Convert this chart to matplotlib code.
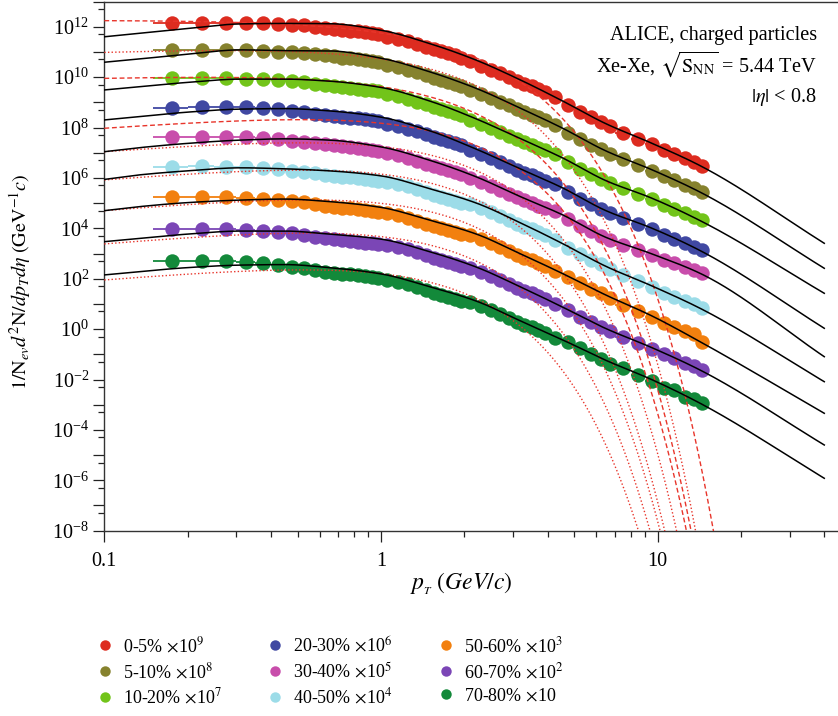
import numpy as np
import matplotlib
matplotlib.use("Agg")
import matplotlib.pyplot as plt
from matplotlib.ticker import FixedLocator, FuncFormatter, NullFormatter
from matplotlib.lines import Line2D

plt.rcParams['font.family'] = ['Liberation Serif', 'DejaVu Serif']
plt.rcParams['mathtext.fontset'] = 'stix'

# ---------------- data (log10 of plotted, scaled yields) ----------------
pt = [0.175, 0.225, 0.275, 0.325, 0.375, 0.425, 0.475, 0.525, 0.575, 0.625,
      0.675, 0.725, 0.775, 0.825, 0.875, 0.925, 0.975,
      1.05, 1.15, 1.25, 1.35, 1.45, 1.55, 1.65, 1.75, 1.85, 1.95,
      2.1, 2.3, 2.5, 2.7, 2.9, 3.1, 3.3, 3.5, 3.7, 3.9,
      4.25, 4.75, 5.25, 5.75, 6.25, 6.75,
      7.5, 8.5, 9.5, 10.5, 11.5, 12.5, 13.5, 14.5]
pt_halfwidth = [0.025] * 17 + [0.05] * 10 + [0.1] * 10 + [0.25] * 6 + [0.5] * 8

logy_0_5 = [12.13, 12.16, 12.16, 12.15, 12.13, 12.10, 12.06, 12.08, 12.00, 11.96,
            11.91, 11.87, 11.84, 11.81, 11.77, 11.74, 11.70,
            11.61, 11.52, 11.42, 11.31, 11.20, 11.10, 11.02, 10.94, 10.86, 10.77,
            10.62, 10.46, 10.30, 10.15, 10.00, 9.86, 9.74, 9.63, 9.53, 9.42,
            9.22, 8.88, 8.63, 8.40, 8.23, 8.04,
            7.79, 7.56, 7.33, 7.11, 6.95, 6.78, 6.64, 6.49]
logy_5_10 = [11.07, 11.07, 11.07, 11.07, 11.05, 11.01, 10.98, 10.94, 10.92, 10.88,
             10.83, 10.77, 10.74, 10.71, 10.67, 10.64, 10.60,
             10.49, 10.40, 10.30, 10.19, 10.08, 9.98, 9.90, 9.82, 9.74, 9.65,
             9.50, 9.34, 9.18, 9.03, 8.88, 8.74, 8.62, 8.51, 8.41, 8.30,
             8.10, 7.80, 7.55, 7.32, 7.15, 6.96,
             6.74, 6.51, 6.28, 6.06, 5.90, 5.73, 5.59, 5.44]
logy_10_20 = [9.95, 9.95, 9.95, 9.92, 9.91, 9.88, 9.85, 9.79, 9.73, 9.67,
              9.64, 9.60, 9.57, 9.54, 9.50, 9.47, 9.43,
              9.33, 9.24, 9.14, 9.03, 8.92, 8.82, 8.74, 8.66, 8.58, 8.49,
              8.29, 8.13, 7.97, 7.82, 7.67, 7.53, 7.41, 7.30, 7.20, 7.09,
              6.96, 6.62, 6.37, 6.14, 5.97, 5.78,
              5.61, 5.38, 5.15, 4.93, 4.77, 4.60, 4.46, 4.31]
logy_20_30 = [8.79, 8.80, 8.83, 8.80, 8.76, 8.72, 8.67, 8.60, 8.54, 8.50,
              8.46, 8.42, 8.39, 8.36, 8.32, 8.29, 8.25,
              8.15, 8.06, 7.96, 7.85, 7.74, 7.64, 7.56, 7.48, 7.40, 7.31,
              7.09, 6.93, 6.77, 6.62, 6.47, 6.33, 6.21, 6.10, 6.00, 5.89,
              5.77, 5.43, 5.18, 4.95, 4.78, 4.59,
              4.42, 4.19, 3.96, 3.74, 3.58, 3.41, 3.27, 3.12]
logy_30_40 = [7.64, 7.64, 7.64, 7.61, 7.57, 7.53, 7.48, 7.42, 7.37, 7.35,
              7.29, 7.25, 7.22, 7.19, 7.15, 7.12, 7.08,
              6.98, 6.89, 6.79, 6.68, 6.57, 6.47, 6.39, 6.31, 6.23, 6.14,
              5.99, 5.83, 5.67, 5.52, 5.37, 5.23, 5.11, 5.00, 4.90, 4.79,
              4.70, 4.36, 4.11, 3.88, 3.71, 3.52,
              3.34, 3.14, 2.94, 2.75, 2.62, 2.47, 2.35, 2.22]
logy_40_50 = [6.44, 6.47, 6.44, 6.42, 6.38, 6.34, 6.29, 6.25, 6.18, 6.12,
              6.09, 6.05, 6.02, 5.99, 5.95, 5.92, 5.88,
              5.85, 5.76, 5.66, 5.55, 5.44, 5.34, 5.26, 5.18, 5.10, 5.01,
              4.95, 4.79, 4.63, 4.48, 4.33, 4.19, 4.07, 3.96, 3.86, 3.75,
              3.55, 3.22, 2.97, 2.74, 2.57, 2.38,
              2.13, 1.90, 1.67, 1.45, 1.29, 1.12, 0.98, 0.83]
logy_50_60 = [5.23, 5.25, 5.23, 5.19, 5.16, 5.12, 5.10, 5.03, 4.96, 4.90,
              4.86, 4.82, 4.79, 4.76, 4.72, 4.69, 4.65,
              4.60, 4.51, 4.41, 4.30, 4.19, 4.09, 4.01, 3.93, 3.85, 3.76,
              3.72, 3.56, 3.40, 3.25, 3.10, 2.96, 2.84, 2.73, 2.63, 2.52,
              2.32, 2.08, 1.83, 1.60, 1.43, 1.24,
              0.94, 0.71, 0.48, 0.26, 0.10, -0.07, -0.21, -0.50]
logy_60_70 = [3.98, 3.98, 3.98, 3.93, 3.90, 3.87, 3.80, 3.73, 3.67, 3.60,
              3.57, 3.53, 3.50, 3.47, 3.43, 3.40, 3.36,
              3.35, 3.26, 3.16, 3.05, 2.94, 2.84, 2.76, 2.68, 2.60, 2.51,
              2.41, 2.25, 2.09, 1.94, 1.79, 1.65, 1.53, 1.42, 1.32, 1.21,
              1.01, 0.75, 0.50, 0.27, 0.10, -0.09,
              -0.32, -0.55, -0.78, -1.00, -1.16, -1.33, -1.47, -1.62]
logy_70_80 = [2.71, 2.71, 2.71, 2.67, 2.63, 2.54, 2.48, 2.41, 2.34, 2.28,
              2.24, 2.20, 2.17, 2.14, 2.10, 2.07, 2.03,
              1.96, 1.87, 1.77, 1.66, 1.55, 1.45, 1.37, 1.29, 1.21, 1.12,
              1.06, 0.90, 0.74, 0.59, 0.44, 0.30, 0.18, 0.07, -0.03, -0.14,
              -0.34, -0.51, -0.76, -0.99, -1.20, -1.38,
              -1.56, -1.82, -2.05, -2.35, -2.42, -2.68, -2.77, -2.94]

labels = [r'0-5% $\times$10$^{9}$', r'5-10% $\times$10$^{8}$', r'10-20% $\times$10$^{7}$',
          r'20-30% $\times$10$^{6}$', r'30-40% $\times$10$^{5}$', r'40-50% $\times$10$^{4}$',
          r'50-60% $\times$10$^{3}$', r'60-70% $\times$10$^{2}$', r'70-80% $\times$10']
colors = ['#dd2c20', '#86822e', '#72c41a', '#4048a2', '#c84dab', '#9cdce8',
          '#f2800f', '#7b46b6', '#13893a']
series = [logy_0_5, logy_5_10, logy_10_20, logy_20_30, logy_30_40, logy_40_50,
          logy_50_60, logy_60_70, logy_70_80]

# fit curve (black): read control points of the drawn fit lines
fit_pt = [0.1, 0.134, 0.2, 0.31, 0.45, 0.65, 1.0, 1.5, 2.2, 3.2, 4.5, 6.5, 9.5, 14.5, 40.0]
fit_logy = [
    [11.60, 11.74, 11.93, 12.11, 12.13, 12.12, 11.86, 11.33, 10.68, 9.88, 9.07, 8.15, 7.38, 6.44, 3.405],
    [10.59, 10.72, 10.91, 11.08, 11.05, 11.04, 10.75, 10.21, 9.56, 8.76, 7.99, 7.07, 6.33, 5.39, 2.413],
    [9.49, 9.62, 9.79, 9.92, 9.92, 9.84, 9.59, 9.05, 8.35, 7.55, 6.81, 5.89, 5.20, 4.26, 1.421],
    [8.30, 8.43, 8.61, 8.73, 8.75, 8.66, 8.41, 7.87, 7.15, 6.35, 5.62, 4.70, 4.01, 3.07, 0.032],
    [7.04, 7.20, 7.37, 7.50, 7.55, 7.50, 7.23, 6.70, 6.05, 5.25, 4.55, 3.64, 2.99, 2.17, -1.095],
    [5.94, 6.12, 6.28, 6.40, 6.36, 6.28, 6.08, 5.57, 5.01, 4.21, 3.41, 2.49, 1.72, 0.78, -2.087],
    [4.70, 4.86, 5.02, 5.12, 5.16, 5.06, 4.83, 4.32, 3.78, 2.98, 2.22, 1.35, 0.53, -0.55, -3.341],
    [3.47, 3.60, 3.77, 3.89, 3.89, 3.77, 3.57, 3.07, 2.47, 1.67, 0.89, 0.02, -0.73, -1.67, -4.599],
    [2.15, 2.28, 2.44, 2.54, 2.56, 2.44, 2.19, 1.68, 1.12, 0.32, -0.41, -1.24, -2.00, -2.99, -5.92],
]

# soft-component curves (red): value at pT=0.1, value at pT=1, pT where it reaches 1e-8
soft_log_at_01 = [12.24, 10.98, 9.95, 7.97, 7.04, 5.92, 4.70, 3.38, 1.95]
soft_log_at_1 = [11.75, 10.72, 9.62, 8.17, 7.24, 6.15, 4.99, 3.67, 2.20]
soft_pt_end = [15.9, 13.7, 13.2, 12.7, 11.7, 10.6, 10.2, 9.38, 8.52]
soft_style = ['dashed', 'dotted', 'dashed', 'dashed', 'dotted', 'dotted', 'dotted', 'dotted', 'dotted']
soft_k = 1.3


def pchip(x, y, xn):
    x = np.asarray(x, float); y = np.asarray(y, float)
    h = np.diff(x); d = np.diff(y) / h
    m = np.zeros_like(y)
    m[0] = d[0]; m[-1] = d[-1]
    for k in range(1, len(x) - 1):
        if d[k - 1] * d[k] <= 0:
            m[k] = 0.0
        else:
            w1 = 2 * h[k] + h[k - 1]; w2 = h[k] + 2 * h[k - 1]
            m[k] = (w1 + w2) / (w1 / d[k - 1] + w2 / d[k])
    idx = np.clip(np.searchsorted(x, xn) - 1, 0, len(x) - 2)
    t = (xn - x[idx]) / h[idx]
    h00 = 2 * t**3 - 3 * t**2 + 1; h10 = t**3 - 2 * t**2 + t
    h01 = -2 * t**3 + 3 * t**2; h11 = t**3 - t**2
    return h00 * y[idx] + h10 * h[idx] * m[idx] + h01 * y[idx + 1] + h11 * h[idx] * m[idx + 1]


# ---------------- figure ----------------
fig = plt.figure(figsize=(8.38, 7.16), dpi=100)
ax = fig.add_axes([0.1245, 0.2588, 1.0 - 0.1245, 0.9979 - 0.2588])
ax.set_xscale('log'); ax.set_yscale('log')

for ys, c in zip(series, colors):
    ax.errorbar(pt, 10.0 ** np.array(ys), xerr=pt_halfwidth, fmt='o', ms=10.4, mew=0,
                color=c, ecolor=c, elinewidth=1.3, capsize=0, zorder=2)

lx = np.linspace(-1, np.log10(40.0), 400)
for fy in fit_logy:
    ly = pchip(np.log10(fit_pt), fy, lx)
    ax.plot(10 ** lx, 10 ** ly, color='black', lw=1.1, zorder=4)

for L0, L1, pend, st in zip(soft_log_at_01, soft_log_at_1, soft_pt_end, soft_style):
    A = np.array([[1.0, -1.0, -0.1 ** soft_k],
                  [1.0, 0.0, -1.0],
                  [1.0, np.log10(pend), -pend ** soft_k]])
    c0, a0, b0 = np.linalg.solve(A, np.array([L0, L1, -8.0]))
    p = np.logspace(-1, np.log10(pend * 1.03), 400)
    ly = c0 + a0 * np.log10(p) - b0 * p ** soft_k
    ls = (0, (3.5, 2.0)) if st == 'dashed' else (0, (1.0, 1.6))
    ax.plot(p, 10 ** ly, color='#e8352b', lw=1.0, ls=ls, zorder=3)

ax.set_xlim(0.1, 44.84)
ax.set_ylim(1e-8, 1e13)

ax.xaxis.set_major_locator(FixedLocator([0.1, 1, 10]))
ax.xaxis.set_major_formatter(FuncFormatter(lambda v, p: {0.1: '0.1', 1: '1', 10: '10'}.get(round(v, 3), '')))
ax.xaxis.set_minor_locator(FixedLocator([0.2, 0.3, 0.4, 0.5, 0.6, 0.7, 0.8, 0.9,
                                         2, 3, 4, 5, 6, 7, 8, 9, 20, 30, 40]))
ax.xaxis.set_minor_formatter(NullFormatter())


def yfmt(v, p):
    e = int(round(np.log10(v)))
    if e % 2 == 0 and -8 <= e <= 12:
        return r'$\mathdefault{10^{%d}}$' % e
    return ''


ax.yaxis.set_major_locator(FixedLocator([10.0 ** k for k in range(-8, 14)]))
ax.yaxis.set_major_formatter(FuncFormatter(yfmt))
ax.yaxis.set_minor_locator(FixedLocator([5 * 10.0 ** k for k in range(-9, 13)]))
ax.yaxis.set_minor_formatter(NullFormatter())

ax.tick_params(which='major', direction='out', length=8, width=0.9, labelsize=14.5, color='#222222')
ax.tick_params(which='minor', direction='out', length=4.5, width=0.9, color='#222222')
ax.tick_params(axis='x', pad=7)
ax.tick_params(axis='y', pad=3)
for s in ['left', 'bottom', 'top']:
    ax.spines[s].set_linewidth(1.0)
    ax.spines[s].set_color('#333333')
ax.spines['right'].set_visible(False)

ax.set_ylabel(r'$1/\mathrm{N}_{ev}d^2\mathrm{N}/dp_Td\eta\;(\mathrm{GeV}^{-1}c)$', fontsize=14.5)
ax.yaxis.set_label_coords(-0.097, 0.47)
ax.set_xlabel(r'$p_{_T}\;(GeV/c)$', fontsize=17)
ax.xaxis.set_label_coords(0.486, -0.075)

tkw = dict(transform=ax.transAxes, ha='right', va='center', fontsize=14.6)
ax.text(0.9714, 0.9367, 'ALICE, charged particles', **tkw)
ax.text(0.9714, 0.882, r'Xe-Xe, $\sqrt{\mathrm{S}_{\mathrm{NN}}}$ = 5.44 TeV', **tkw)
ax.text(0.9714, 0.8195, r'$|\eta|$ < 0.8', **tkw)

handles = [Line2D([], [], marker='o', ls='none', color=c, ms=7.5, mew=0) for c in colors]
fig.legend(handles, labels, ncol=3, loc='upper left', bbox_to_anchor=(0.113, 0.112),
           frameon=False, fontsize=13, handletextpad=0.45, columnspacing=2.4,
           labelspacing=0.33, borderaxespad=0, borderpad=0, handlelength=1.1)

fig.savefig('out.png', dpi=100)
